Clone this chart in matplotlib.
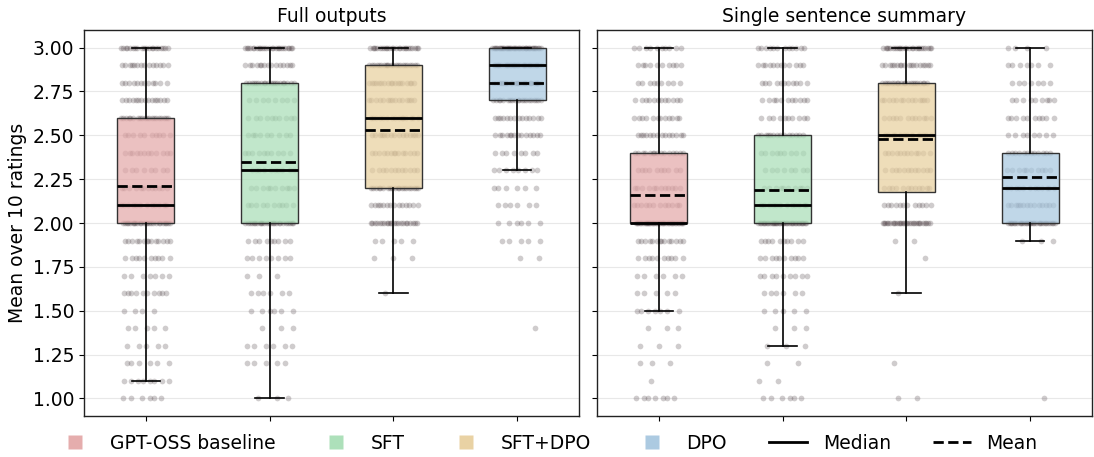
import numpy as np
import matplotlib
matplotlib.use("Agg")
import matplotlib.pyplot as plt
from matplotlib.lines import Line2D
from matplotlib.ticker import FormatStrFormatter

# ---------------- data ----------------
models = ["GPT-OSS baseline", "SFT", "SFT+DPO", "DPO"]
panels = ["Full outputs", "Single sentence summary"]
colors = ["#e4a9a9", "#a9dfb7", "#e8d09f", "#a8c8e0"]

# box statistics per panel (order follows `models`)
full_q1 = [2.0, 2.0, 2.2, 2.7]
full_med = [2.1, 2.3, 2.6, 2.9]
full_q3 = [2.6, 2.8, 2.9, 3.0]
full_mean = [2.21, 2.35, 2.53, 2.80]
full_wlo = [1.1, 1.0, 1.6, 2.3]
full_whi = [3.0, 3.0, 3.0, 3.0]

single_q1 = [2.0, 2.0, 2.175, 2.0]
single_med = [2.0, 2.1, 2.5, 2.2]
single_q3 = [2.4, 2.5, 2.8, 2.4]
single_mean = [2.16, 2.19, 2.48, 2.26]
single_wlo = [1.5, 1.3, 1.6, 1.9]
single_whi = [3.0, 3.0, 3.0, 3.0]

# rating levels and number of prompts at each level
levels = [3.0, 2.9, 2.8, 2.7, 2.6, 2.5, 2.4, 2.3, 2.2, 2.1, 2.0,
          1.9, 1.8, 1.7, 1.6, 1.5, 1.4, 1.3, 1.2, 1.1, 1.0]
full_base_counts = [20, 14, 12, 15, 20, 10, 12, 8, 12, 12, 25, 14, 10, 7, 10, 4, 5, 5, 6, 8, 6]
full_sft_counts = [25, 15, 20, 8, 10, 9, 10, 10, 10, 10, 25, 9, 8, 3, 6, 6, 3, 6, 5, 0, 3]
full_sftdpo_counts = [25, 22, 18, 15, 15, 15, 14, 12, 20, 14, 22, 5, 3, 0, 1, 0, 0, 0, 0, 0, 0]
full_dpo_counts = [40, 30, 25, 20, 14, 14, 8, 8, 6, 6, 6, 5, 2, 0, 0, 0, 1, 0, 0, 0, 0]
single_base_counts = [10, 10, 9, 12, 12, 14, 15, 10, 12, 12, 35, 14, 10, 6, 5, 7, 3, 3, 3, 1, 7]
single_sft_counts = [12, 12, 11, 11, 10, 14, 9, 8, 10, 12, 35, 10, 10, 9, 6, 5, 3, 3, 2, 2, 6]
single_sftdpo_counts = [25, 18, 20, 14, 12, 12, 12, 12, 12, 12, 30, 2, 1, 0, 1, 0, 0, 0, 1, 0, 2]
single_dpo_counts = [4, 7, 7, 9, 10, 8, 12, 10, 12, 14, 30, 3, 0, 0, 0, 0, 0, 0, 0, 0, 1]

yticks = [1.0, 1.25, 1.5, 1.75, 2.0, 2.25, 2.5, 2.75, 3.0]

# ---------------- figure ----------------
plt.rcParams["font.family"] = ["DejaVu Sans"]
fig = plt.figure(figsize=(10.94, 4.57), dpi=100)
W, H = 1094, 457
ax1 = fig.add_axes([84 / W, 1 - 416 / H, 495 / W, 386 / H])
ax2 = fig.add_axes([597 / W, 1 - 416 / H, 495 / W, 386 / H], sharey=ax1)

panel_stats = [
    (full_q1, full_med, full_q3, full_mean, full_wlo, full_whi,
     [full_base_counts, full_sft_counts, full_sftdpo_counts, full_dpo_counts]),
    (single_q1, single_med, single_q3, single_mean, single_wlo, single_whi,
     [single_base_counts, single_sft_counts, single_sftdpo_counts, single_dpo_counts]),
]

positions = np.arange(1, len(models) + 1)
phi = 0.6180339887

for ax, title, (q1, med, q3, mean, wlo, whi, counts) in zip([ax1, ax2], panels, panel_stats):
    ax.set_axisbelow(True)
    ax.grid(axis="y", color="#e8e8e8", linewidth=0.8, zorder=0)
    # jittered points
    for m, pos in enumerate(positions):
        xs, ys = [], []
        for j, (lv, n) in enumerate(zip(levels, counts[m])):
            if n == 0:
                continue
            frac = ((np.arange(n) + 0.37 * j + 0.11 * m) * phi) % 1.0
            xs.extend(pos + (frac - 0.5) * 0.40)
            ys.extend([lv] * n)
        ax.scatter(xs, ys, s=17, color="#3a2a30", alpha=0.24, linewidths=0, zorder=1)
    stats = []
    for m in range(len(models)):
        stats.append(dict(q1=q1[m], med=med[m], q3=q3[m], mean=mean[m],
                          whislo=wlo[m], whishi=whi[m], fliers=[]))
    bp = ax.bxp(stats, positions=positions, widths=0.46, patch_artist=True,
                showmeans=True, meanline=True, showfliers=False, capwidths=0.23,
                boxprops=dict(edgecolor="#333333", linewidth=1.0),
                whiskerprops=dict(color="black", linewidth=1.2),
                capprops=dict(color="black", linewidth=1.2),
                medianprops=dict(color="black", linewidth=2.0),
                meanprops=dict(color="black", linewidth=2.0, linestyle="--"),
                zorder=2)
    for patch, c in zip(bp["boxes"], colors):
        r, g, b, _ = matplotlib.colors.to_rgba(c)
        patch.set_facecolor((r, g, b, 0.72))
    for ln in bp["medians"] + bp["means"]:
        ln.set_zorder(3)
    ax.set_xlim(0.5, 4.5)
    ax.set_xticks(positions)
    ax.set_xticklabels([])
    ax.set_title(title, fontsize=13.5)
    for sp in ax.spines.values():
        sp.set_color("#222222")
        sp.set_linewidth(1.0)

ax1.set_ylim(0.9, 3.1)
ax1.set_yticks(yticks)
ax1.yaxis.set_major_formatter(FormatStrFormatter("%.2f"))
ax1.tick_params(axis="y", labelsize=13.5)
ax2.tick_params(axis="y", labelleft=False)
ax1.set_ylabel("Mean over 10 ratings", fontsize=13.5)

handles = [Line2D([0], [0], marker="s", linestyle="none", markersize=9.5,
                  markerfacecolor=c, markeredgecolor="none", alpha=0.95) for c in colors]
handles += [Line2D([0], [0], color="black", linewidth=2.0),
            Line2D([0], [0], color="black", linewidth=2.0, linestyle="--")]
labels = models + ["Median", "Mean"]
fig.legend(handles, labels, loc="lower center", bbox_to_anchor=(0.5, -0.028), ncol=6,
           frameon=False, fontsize=13.5, columnspacing=2.25, handletextpad=0.85,
           handlelength=2.0)

fig.savefig("out.png", dpi=100)
